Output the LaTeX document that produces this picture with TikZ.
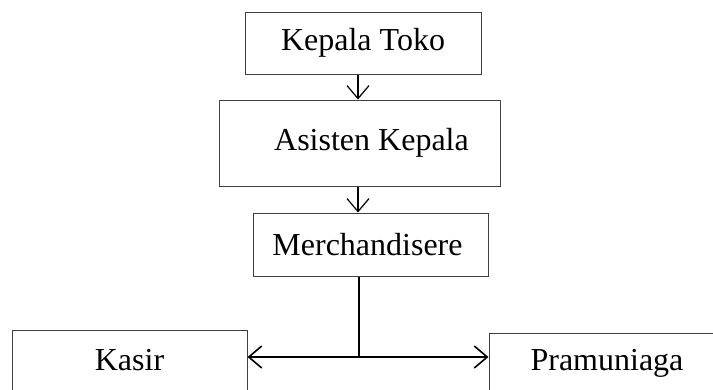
\documentclass[tikz,border=0pt]{standalone}
\usepackage{fontspec}
\setmainfont{Liberation Serif}
\usetikzlibrary{arrows.meta}
\begin{document}
\begin{tikzpicture}[x=1pt,y=-1pt,
  box/.style={draw=black!75, line width=1pt, inner sep=0pt, font=\fontsize{32}{36}\selectfont},
  conn/.style={draw=black, line width=1.2pt, -{Straight Barb[length=13pt,width=22pt]}},
  link/.style={draw=black, line width=1.8pt}]
\useasboundingbox (0,0) rectangle (713,389);
\clip (0,0) rectangle (713,389);
\node[box, minimum width=236pt, minimum height=62pt] (kt) at (363,43) {Kepala Toko};
\node[box, minimum width=281pt, minimum height=86pt] (ak) at (359.5,143) {\hspace*{24pt}Asisten Kepala};
\node[box, minimum width=235pt, minimum height=63pt] (mc) at (370.5,244.5) {Merchandisere\hspace*{6pt}};
\node[box, minimum width=235pt, minimum height=60pt] (ks) at (129.5,360) {Kasir};
\node[box, minimum width=226pt, minimum height=60pt] (pr) at (602,363) {\hspace*{10pt}Pramuniaga};
\coordinate (sp) at (358,0);
\coordinate (jn) at (359,357);
\draw[conn] (kt.south -| sp) -- (ak.north -| sp);
\draw[conn] (ak.south -| sp) -- (mc.north -| sp);
\draw[link] (mc.south -| jn) -- (jn);
\draw[conn, line width=1.6pt] (jn) -- (jn -| ks.east);
\draw[conn, line width=1.6pt] (jn) -- (jn -| pr.west);
\end{tikzpicture}
\end{document}
